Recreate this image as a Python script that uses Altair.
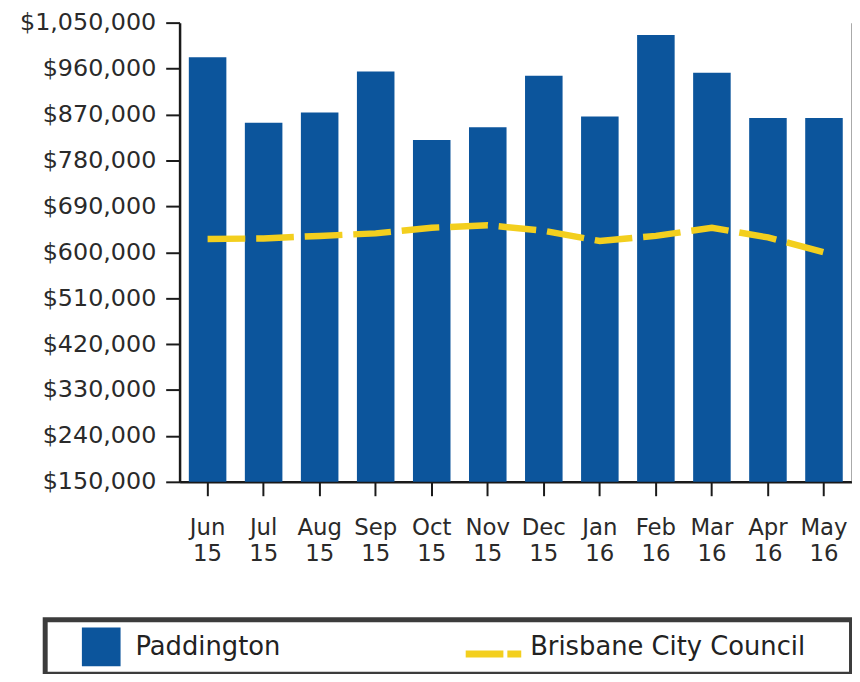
import altair as alt
import pandas as pd

# ---- data ----
months = ["Jun 15", "Jul 15", "Aug 15", "Sep 15", "Oct 15", "Nov 15",
          "Dec 15", "Jan 16", "Feb 16", "Mar 16", "Apr 16", "May 16"]
paddington = [982000, 854000, 874000, 954000, 820000, 845000,
              946000, 866000, 1026000, 952000, 863000, 863000]
brisbane = [626000, 627000, 632000, 637000, 648000, 653000,
            642000, 622000, 632000, 648000, 629000, 600000]
series = ["Paddington", "Brisbane City Council"]
y_ticks = [150000, 240000, 330000, 420000, 510000, 600000,
           690000, 780000, 870000, 960000, 1050000]

BLUE = "#0c559c"
YELLOW = "#f3cf1e"
FONT = "DejaVu Sans"

df_bar = pd.DataFrame({"month": months, "value": paddington, "series": series[0]})
df_line = pd.DataFrame({"month": months, "value": brisbane, "series": series[1]})

x_enc = alt.X(
    "month:N", sort=months,
    scale=alt.Scale(paddingInner=0.33, paddingOuter=0.165),
    axis=alt.Axis(title=None, labelAngle=0, labelExpr="split(datum.label, ' ')",
                  labelLineHeight=26, labelBaseline="top", labelPadding=21,
                  tickSize=14, tickWidth=2, tickColor="#1a1a1a",
                  domainColor="#1a1a1a", domainWidth=2.5, grid=False,
                  labelFontSize=23),
)

y_scale = alt.Scale(domain=[150000, 1050000], zero=False, nice=False)

# framed legend: both labels, square swatch for Paddington (second swatch invisible)
legend1 = alt.Legend(
    title=" ", titleOrient="left", titlePadding=29, titleFontSize=26,
    orient="none", legendX=-135.5, legendY=602,
    direction="horizontal", columns=2, columnPadding=197,
    padding=8, strokeColor="#3c3c3c",
    labelFont=FONT, labelFontSize=26, labelColor="#222222", labelOffset=15,
    labelLimit=900, symbolSize=1521, symbolType="square",
    symbolStrokeWidth=0, symbolOpacity=1,
    labelExpr="datum.label === 'Brisbane City Council' ? datum.label + '\u2800\u2800' : datum.label",
)

# dashed-line swatch for Brisbane City Council, placed inside the frame
legend2 = alt.Legend(
    title=None, orient="none", legendX=285, legendY=605, padding=0,
    labelFont=FONT, labelFontSize=26, labelColor="#222222", labelOffset=0,
    labelExpr="''", symbolType="stroke", symbolSize=3136,
    symbolStrokeWidth=7, symbolDash=[38, 4, 14, 4], symbolOpacity=1,
)

bars = alt.Chart(df_bar).mark_bar().encode(
    x=x_enc,
    y=alt.Y("value:Q", scale=y_scale,
            axis=alt.Axis(title=None, values=y_ticks, format="$,.0f",
                          tickSize=14, tickWidth=2, tickColor="#1a1a1a",
                          domainColor="#1a1a1a", domainWidth=2.5,
                          labelPadding=10, grid=False, labelFontSize=24)),
    y2=alt.datum(150000),
    color=alt.Color("series:N",
                    scale=alt.Scale(domain=series, range=[BLUE, "rgba(0,0,0,0)"]),
                    legend=legend1),
)

line = alt.Chart(df_line).mark_line(
    strokeWidth=6.5, strokeDash=[38, 11]
).encode(
    x=x_enc,
    y=alt.Y("value:Q", scale=y_scale,
            axis=alt.Axis(orient="right", labels=False, ticks=False, title=None,
                          domainColor="#555555", domainWidth=2, grid=False)),
    stroke=alt.Stroke("series:N", scale=alt.Scale(domain=[series[1]], range=[YELLOW]),
                      legend=legend2),
)

chart = alt.layer(bars, line).resolve_axis(y="independent").properties(
    width=678, height=463,
    autosize=alt.AutoSizeParams(type="none"),
    padding={"left": 173, "top": 12, "right": 0, "bottom": 191},
    background="white",
).configure_view(stroke=None).configure_axis(
    labelFont=FONT, labelColor="#2a2a2a"
).configure_legend(strokeWidth=5)

chart.save("out.html", embed_options={"renderer": "svg", "actions": False})
